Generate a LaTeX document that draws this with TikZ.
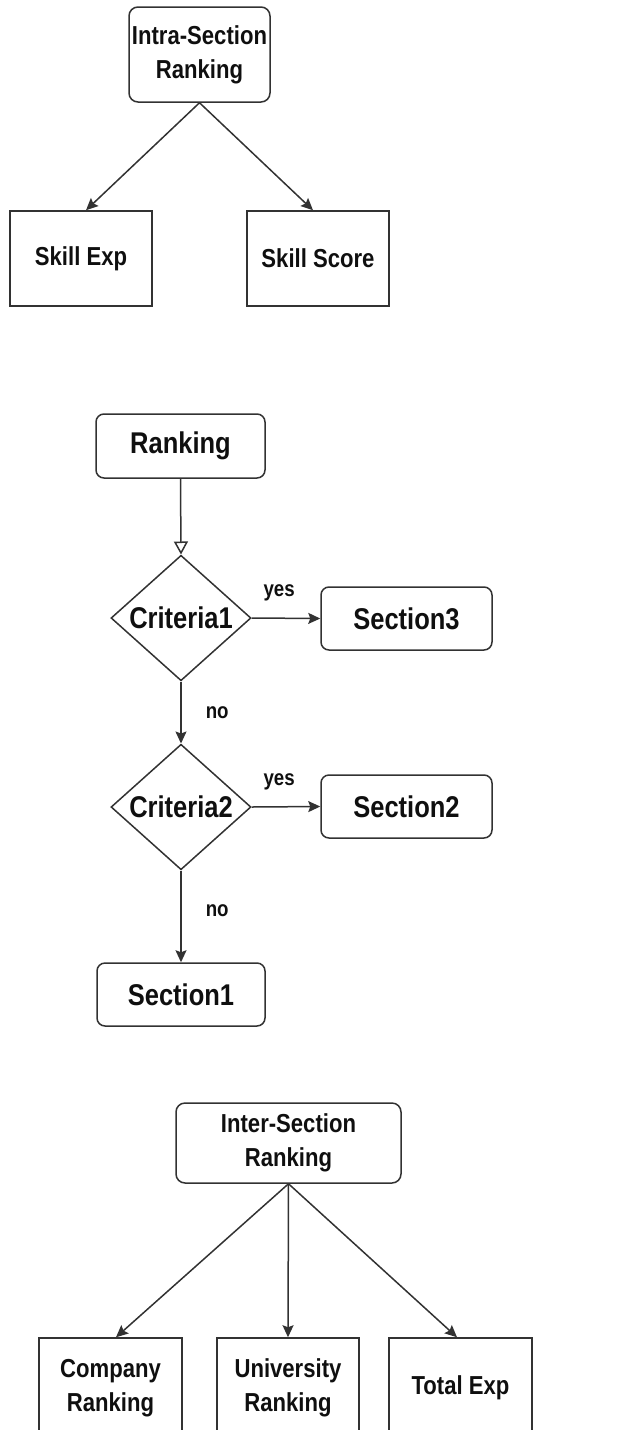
\documentclass[tikz,border=0pt]{standalone}
\usepackage{fontspec}
\setmainfont{Liberation Sans}[FakeStretch=0.85]
\usetikzlibrary{shapes.geometric,arrows.meta,calc}
\definecolor{ln}{RGB}{50,50,50}
\definecolor{tx}{RGB}{15,15,15}
\begin{document}
\begin{tikzpicture}[x=1pt,y=-1pt,
  every node/.style={text=tx,inner sep=0pt},
  bigtxt/.style={font=\fontsize{26}{34}\selectfont\bfseries,align=center},
  midtxt/.style={font=\fontsize{30}{36}\selectfont\bfseries,align=center},
  lbl/.style={font=\fontsize{22}{26}\selectfont\bfseries},
  rbox/.style={draw=ln,line width=1.5pt,rounded corners=9pt,rectangle},
  sbox/.style={draw=ln,line width=1.5pt,rectangle},
  dia/.style={draw=ln,line width=1.5pt,diamond,minimum width=140pt,minimum height=122pt,inner sep=0pt},
  conn/.style={draw=ln,line width=1.5pt,-{Stealth[length=12pt,width=11pt,inset=2pt]}},
  oconn/.style={draw=ln,line width=1.5pt,-{Triangle[open,length=13pt,width=14pt,fill=white]}}
]
\useasboundingbox (0,0) rectangle (622,1430);
\clip (0,0) rectangle (622,1430);

% top section
\node[rbox,bigtxt,minimum width=141pt,minimum height=95pt] (intra) at (199.5,54.5) {Intra-Section\\Ranking};
\node[sbox,bigtxt,minimum width=142pt,minimum height=95pt] (skillexp) at (81,258.5) {Skill Exp};
\node[sbox,bigtxt,minimum width=142pt,minimum height=95pt] (skillscore) at (318,258.5) {Skill Score};
\draw[conn] (intra.south) -- ($(skillexp.north)+(5,0)$);
\draw[conn] (intra.south) -- ($(skillscore.north)+(-5,0)$);

% middle section
\node[rbox,midtxt,rounded corners=8pt,minimum width=169pt,minimum height=64pt] (ranking) at (180.5,446) {Ranking};
\node[dia,midtxt] (crit1) at (181,618) {Criteria1};
\node[rbox,midtxt,rounded corners=8pt,minimum width=171pt,minimum height=63pt] (section3) at (406.5,618.5) {Section3};
\node[dia,midtxt] (crit2) at (181,807) {Criteria2};
\node[rbox,midtxt,rounded corners=8pt,minimum width=171pt,minimum height=63pt] (section2) at (406.5,806.5) {Section2};
\node[rbox,midtxt,rounded corners=8pt,minimum width=168pt,minimum height=63pt] (section1) at (181,994.5) {Section1};

\draw[oconn] (ranking.south) -- (crit1.north);
\draw[conn] (crit1.east) -- node[lbl,pos=0.4,yshift=25pt]{yes} (section3.west);
\draw[conn] (crit1.south) -- node[lbl,anchor=west,xshift=24pt]{no} (crit2.north);
\draw[conn] (crit2.east) -- node[lbl,pos=0.4,yshift=25pt]{yes} (section2.west);
\draw[conn] (crit2.south) -- node[lbl,anchor=west,xshift=24pt,pos=0.44]{no} (section1.north);

% bottom section
\node[rbox,bigtxt,minimum width=225pt,minimum height=80pt] (inter) at (288.5,1143) {Inter-Section\\Ranking};
\node[sbox,bigtxt,minimum width=143pt,minimum height=100pt] (company) at (110.5,1388) {Company\\Ranking};
\node[sbox,bigtxt,minimum width=142pt,minimum height=100pt] (university) at (288,1388) {University\\Ranking};
\node[sbox,bigtxt,minimum width=143pt,minimum height=100pt] (totalexp) at (460.5,1388) {Total Exp};
\draw[conn] (inter.south) -- ($(company.north)+(5.5,0)$);
\draw[conn] (inter.south) -- (university.north);
\draw[conn] (inter.south) -- ($(totalexp.north)+(-3.5,0)$);
\end{tikzpicture}
\end{document}
